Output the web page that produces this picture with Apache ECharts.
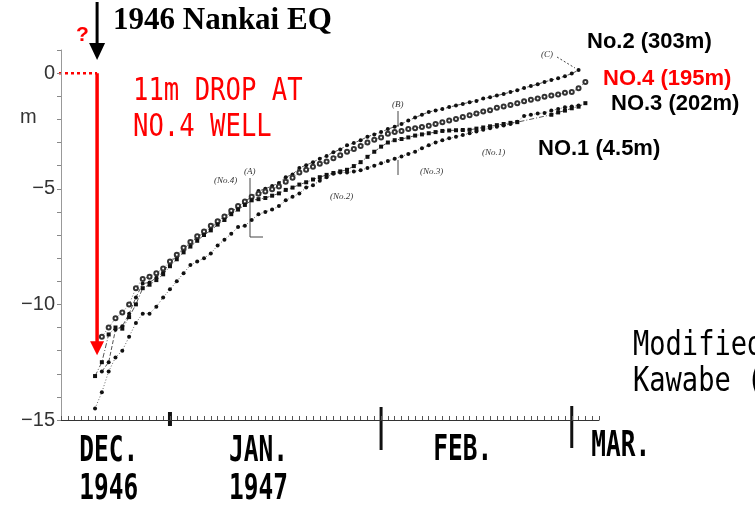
<!DOCTYPE html>
<html><head><meta charset="utf-8">
<script src="https://cdn.jsdelivr.net/npm/echarts@6/dist/echarts.min.js"></script>
<style>html,body{margin:0;padding:0;background:#fff}#c{width:755px;height:505px}</style>
</head><body><div id="c"></div>
<script>
// day 0 = 1 Jan 1947
const days = [-11,-10,-9,-8,-7,-6,-5,-4,-3,-2,-1,
  0,1,2,3,4,5,6,7,8,9,10,11,12,13,14,15,16,17,18,19,20,21,22,23,24,25,26,27,28,29,30,
  31,32,33,34,35,36,37,38,39,40,41,42,43,44,45,46,47,48,49,50,51,52,53,54,55,56,57,58,59,60,61];

const wellNo2 = [null,-12.9,-12.5,-11.1,-10.95,-10.4,-9.7,-9.1,-9.05,-8.85,-8.6,
  -8.2,-7.9,-7.6,-7.35,-7.1,-6.9,-6.7,-6.45,-6.25,-6.0,
  -5.8,-5.55,-5.35,-5.1,-5.0,-4.88,-4.75,-4.5,-4.38,-4.1,
  -3.98,-3.85,-3.7,-3.58,-3.42,-3.3,-3.12,-3.02,-2.9,-2.75,
  -2.65,-2.55,-2.42,-2.32,-2.2,-2.05,-1.92,-1.8,-1.68,-1.62,
  -1.55,-1.47,-1.4,-1.33,-1.26,-1.2,-1.1,-1.04,-0.97,-0.9,
  -0.82,-0.74,-0.64,-0.56,-0.48,-0.38,-0.3,-0.22,-0.13,-0.02,
  0.13,null];

const wellNo4 = [null,-11.4,-11.0,-10.6,-10.35,-10.0,-9.3,-8.9,-8.8,-8.65,-8.45,
  -8.15,-7.85,-7.55,-7.3,-7.05,-6.85,-6.6,-6.4,-6.2,-5.95,
  -5.75,-5.55,-5.35,-5.22,-5.12,-5.02,-4.9,-4.7,-4.52,-4.3,
  -4.18,-4.05,-3.92,-3.82,-3.68,-3.55,-3.4,-3.28,-3.15,-3.0,
  -2.88,-2.78,-2.62,-2.55,-2.5,-2.42,-2.38,-2.33,-2.28,-2.2,
  -2.12,-2.05,-1.98,-1.9,-1.82,-1.75,-1.66,-1.6,-1.5,-1.44,
  -1.38,-1.3,-1.22,-1.15,-1.1,-1.02,-0.97,-0.92,-0.85,-0.82,
  -0.65,-0.38];

const wellNo3 = [-13.1,-12.5,-11.3,-11.0,-11.05,-10.55,-10.0,-9.3,-9.15,-8.95,-8.7,
  -8.35,-8.05,-7.75,-7.5,-7.25,-7.0,-6.8,-6.55,-6.35,-6.1,
  -5.9,-5.7,-5.5,-5.45,-5.4,-5.3,-5.2,-5.05,-4.95,-4.82,
  -4.72,-4.6,-4.5,-4.4,-4.32,-4.25,-4.18,-4.02,-3.85,-3.62,
  -3.4,-3.18,-3.0,-2.9,-2.85,-2.78,-2.7,-2.65,-2.6,-2.55,
  -2.5,-2.48,-2.47,-2.46,-2.45,-2.4,-2.35,-2.3,-2.25,-2.2,
  -2.15,-2.12,null,null,null,null,-1.8,-1.7,-1.62,-1.52,
  -1.45,-1.3];

const wellNo1 = [-14.5,-13.8,-12.9,-12.3,-12.0,-11.4,-10.8,-10.4,-10.4,-10.1,-9.7,
  -9.35,-9.0,-8.65,-8.3,-8.15,-8.0,-7.8,-7.45,-7.2,-6.95,
  -6.65,-6.6,-6.35,-6.1,-6.0,-5.9,-5.75,-5.5,-5.35,-5.2,
  -4.95,-4.85,-4.65,-4.5,-4.35,-4.3,-4.3,-4.25,-4.2,-4.1,
  -4.0,-3.9,-3.8,-3.7,-3.6,-3.5,-3.4,-3.25,-3.12,-3.0,
  -2.9,-2.82,-2.75,-2.68,-2.6,-2.52,-2.45,-2.38,-2.32,-2.26,
  -2.2,-2.1,-1.85,-1.8,-1.75,-1.72,-1.62,-1.55,-1.48,-1.44,
  -1.4,null];

const yTickLabels = [0,-5,-10,-15];
const monthStartDays = [0,31,59];
const monthLabels = ['DEC.\n1946','JAN.\n1947','FEB.','MAR.'];
const monthLabelDays = [-9,13,43,66.2];
const quakeDay = -10.7;      // 21 Dec 1946
const dropLevel = -12.2;     // arrow tip level

function pairs(vals){ const out=[]; days.forEach((d,i)=>{ if(vals[i]!=null) out.push([d,vals[i]]); }); return out; }

const chart = echarts.init(document.getElementById('c'), null, {renderer:'canvas'});
const lineBase = {type:'line', silent:true, animation:false, clip:false, connectNulls:true};
const option = {
  backgroundColor:'#fff',
  animation:false,
  grid:{left:61, right:156, top:50, bottom:85},
  xAxis:{type:'value', min:-16, max:63, interval:1,
    axisLine:{onZero:false, lineStyle:{color:'#333', width:1}},
    axisTick:{inside:true, length:4, lineStyle:{color:'#555', width:1}},
    axisLabel:{show:false}, splitLine:{show:false}},
  yAxis:{type:'value', min:-15, max:1, interval:1,
    axisLine:{show:true, onZero:false, lineStyle:{color:'#999', width:1}},
    axisTick:{show:true, length:4, lineStyle:{color:'#888'}},
    axisLabel:{margin:6, fontSize:20, color:'#333', fontFamily:'Liberation Sans',
      formatter:v=> yTickLabels.includes(v) ? (v<0 ? '\u2212'+(-v) : String(v)) : ''},
    splitLine:{show:false}},
  series:[
    Object.assign({}, lineBase, {name:'No.2 (303m)', data:pairs(wellNo2), symbol:'circle', symbolSize:4,
      itemStyle:{color:'#111'}, lineStyle:{color:'#555', width:1, type:[4,2]}}),
    Object.assign({}, lineBase, {name:'NO.4 (195m)', data:pairs(wellNo4), symbol:'emptyCircle', symbolSize:4,
      itemStyle:{color:'#333', borderWidth:0.8}, lineStyle:{color:'#666', width:1, type:[1,2]}}),
    Object.assign({}, lineBase, {name:'NO.3 (202m)', data:pairs(wellNo3), symbol:'rect', symbolSize:4,
      itemStyle:{color:'#111'}, lineStyle:{color:'#555', width:1, type:[5,2,1,2]}}),
    Object.assign({}, lineBase, {name:'NO.1 (4.5m)', data:pairs(wellNo1), symbol:'circle', symbolSize:4,
      itemStyle:{color:'#111'}, lineStyle:{color:'#666', width:1, type:[1,2]}})
  ]
};
chart.setOption(option);

const P = (d,v)=>chart.convertToPixel({gridIndex:0},[d,v]);
const g = [];
const mono = '"DejaVu Sans Mono", "Liberation Mono", monospace';
function txt(x,y,text,font,fill,opts){
  g.push(Object.assign({type:'text', x, y, silent:true,
    style:{text, font, fill, textAlign:'left', textVerticalAlign:'middle'}}, opts||{}));
}
// month boundary ticks
const tickExt = [[412,426,4],[407,450,3],[406,448,3]];
monthStartDays.forEach((d,i)=>{
  const x = P(d,-15)[0];
  g.push({type:'line', silent:true, shape:{x1:x,y1:tickExt[i][0],x2:x,y2:tickExt[i][1]}, style:{stroke:'#111', lineWidth:tickExt[i][2]}});
});
// month labels
monthLabels.forEach((t,i)=>{
  const x = P(monthLabelDays[i],-15)[0];
  const lines = t.split('\n');
  lines.forEach((ln,j)=>{
    g.push({type:'text', x, y: (i===3?447:(i===2?451:452)) + j*38, scaleX:0.72, scaleY:1.05, silent:true,
      style:{text:ln, font:'bold 34px '+mono, fill:'#000', textAlign:'center', textVerticalAlign:'middle'}});
  });
});
// earthquake annotation
const q0 = P(quakeDay,0), qTip = P(quakeDay,dropLevel), leftZero = P(-16,0);
g.push({type:'line', silent:true, shape:{x1:q0[0],y1:2,x2:q0[0],y2:45}, style:{stroke:'#000', lineWidth:3}});
g.push({type:'polygon', silent:true, shape:{points:[[q0[0]-8,43],[q0[0]+8,43],[q0[0],60]]}, style:{fill:'#000'}});
g.push({type:'line', silent:true, shape:{x1:leftZero[0]-2,y1:q0[1],x2:q0[0],y2:q0[1]}, style:{stroke:'#f00', lineWidth:2.5, lineDash:[3,3]}});
g.push({type:'line', silent:true, shape:{x1:q0[0],y1:q0[1],x2:q0[0],y2:qTip[1]-12}, style:{stroke:'#f00', lineWidth:3.5}});
g.push({type:'polygon', silent:true, shape:{points:[[q0[0]-7,qTip[1]-14],[q0[0]+7,qTip[1]-14],[q0[0],qTip[1]]]}, style:{fill:'#f00'}});
txt(76,35,'?','bold 21px "Liberation Sans"','#f00');
txt(113,21,'1946 Nankai EQ','bold 31px "Liberation Serif"','#000');
txt(133,92,'11m DROP AT','32px '+mono,'#f00',{scaleX:0.8});
txt(133,128,'NO.4 WELL','32px '+mono,'#f00',{scaleX:0.8});
txt(633,346,'Modified','33px '+mono,'#000',{scaleX:0.82});
txt(633,382,'Kawabe (','33px '+mono,'#000',{scaleX:0.82});
txt(20,117,'m','20px "Liberation Sans"','#333');
// well labels
txt(587,42,'No.2 (303m)','bold 22px "Liberation Sans"','#000');
txt(603,79,'NO.4 (195m)','bold 22px "Liberation Sans"','#f00');
txt(611,104,'NO.3 (202m)','bold 22px "Liberation Sans"','#000');
txt(538,149,'NO.1 (4.5m)','bold 22px "Liberation Sans"','#000');
// small original annotations
const sm = 'italic 9px "Liberation Serif"';
txt(244,172,'(A)',sm,'#333');
txt(214,181,'(No.4)',sm,'#333');
txt(330,197,'(No.2)',sm,'#333');
txt(392,105,'(B)',sm,'#333');
txt(420,172,'(No.3)',sm,'#333');
txt(482,153,'(No.1)',sm,'#333');
txt(541,55,'(C)',sm,'#333');
g.push({type:'line', silent:true, shape:{x1:250,y1:178,x2:250,y2:237}, style:{stroke:'#444', lineWidth:1}});
g.push({type:'line', silent:true, shape:{x1:250,y1:237,x2:263,y2:237}, style:{stroke:'#444', lineWidth:1}});
g.push({type:'line', silent:true, shape:{x1:398,y1:111,x2:398,y2:127}, style:{stroke:'#444', lineWidth:1}});
g.push({type:'line', silent:true, shape:{x1:398,y1:160,x2:398,y2:175}, style:{stroke:'#444', lineWidth:1}});
g.push({type:'line', silent:true, shape:{x1:557,y1:57,x2:575,y2:68}, style:{stroke:'#444', lineWidth:1, lineDash:[2,2]}});
chart.setOption({graphic:{elements:g}});
</script>
</body></html>
